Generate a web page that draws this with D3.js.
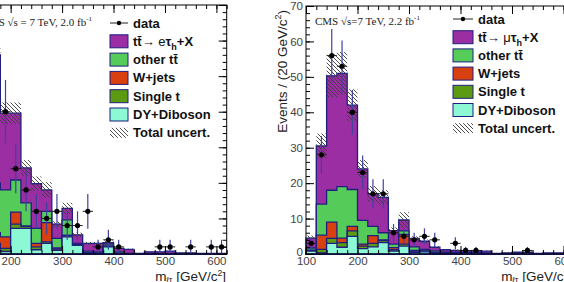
<!DOCTYPE html>
<html>
<head>
<meta charset="utf-8">
<script src="https://cdn.jsdelivr.net/npm/d3@7"></script>
<style>
  body { margin: 0; background: #fff; }
  svg { display: block; }
</style>
</head>
<body>
<div id="chart"></div>
<script>
// ---- data (20 GeV/c^2 bins, lower edges) ----
const BIN_W = 20;

// e-tau channel (left panel, only the part from 160 GeV on is in view)
const leftEdges = [160, 180, 200, 220, 240, 260, 280, 300, 320, 340, 360, 380, 400, 420, 440, 460, 480, 500, 520, 540, 560, 580, 600];
const leftDY    = [1.0, 0.35, 3.6, 3.6, 0.6, 1.5, 0.5, 2.4, 1.2, 0.15, 0.2, 1.0, 0.1, 0, 0, 0, 0, 0, 0, 0, 0, 0, 0];
const leftST    = [0.5, 0.45, 0.6, 0.3, 0.4, 0.2, 0.2, 0.2, 0.1, 0.05, 0, 0.1, 0, 0, 0, 0, 0, 0, 0, 0, 0, 0, 0];
const leftWJ    = [1.5, 1.6, 1.7, 0, 0.5, 2.7, 0.15, 0, 0, 0, 0, 0, 0, 0, 0, 0, 0, 0, 0, 0, 0, 0, 0];
const leftOTT   = [7.0, 6.6, 4.5, 3.3, 2.1, 1.6, 1.35, 2.2, 0.2, 0.2, 0.1, 0.3, 0.2, 0.1, 0, 0.05, 0.1, 0.1, 0, 0, 0, 0, 0];
const leftSIG   = [18.0, 10.8, 9.4, 4.9, 6.3, 3.0, 2.0, 1.6, 1.2, 1.1, 1.2, 0.2, 0.5, 0.55, 0.1, 0.25, 0.2, 0.3, 0.15, 0.15, 0.1, 0.1, 0.1];
const leftUnc   = [1.4, 1.5, 1.5, 1.1, 1.0, 1.1, 0.4, 0.8, 0.3, 0.2, 0.2, 0.3, 0.1, 0.1, 0.05, 0.05, 0.05, 0.05, 0.05, 0.05, 0.05, 0.05, 0.05];
const leftData  = [26, 20, 12, 9, 6, 5, 6, 4, 4, 6, 1, 2, 1, 0, 0, 0, 1, 1, 0, 1, 0, 1, 1];

// mu-tau channel (right panel)
const rightEdges = [100, 120, 140, 160, 180, 200, 220, 240, 260, 280, 300, 320, 340, 360, 380, 400, 420, 440, 460, 480, 500, 520, 540, 560, 580, 600];
const rightDY    = [0.8, 0.3, 3.0, 1.9, 5.0, 1.5, 2.0, 3.2, 0.8, 2.2, 0.5, 0.6, 0.3, 0.2, 0.2, 0.1, 0.1, 0.1, 0, 0, 0, 0, 0, 0, 0, 0];
const rightST    = [0.2, 1.0, 1.4, 1.3, 1.5, 0.7, 1.0, 0.6, 0.4, 0.6, 0.3, 0.2, 0.1, 0, 0, 0, 0, 0, 0, 0, 0, 0, 0, 0, 0, 0];
const rightWJ    = [0.1, 4.0, 4.6, 1.3, 1.3, 0.6, 2.2, 0.2, 0.6, 2.7, 0.2, 0.1, 0.1, 0.1, 0.1, 0.1, 0.1, 0, 0, 0, 0, 0, 0, 0, 0, 0];
const rightOTT   = [0.6, 8.8, 9.0, 14.5, 10.4, 6.7, 2.6, 2.0, 1.0, 1.0, 1.0, 0.4, 0.4, 0.2, 0.2, 0.2, 0.2, 0.2, 0.1, 0.1, 0.2, 0.2, 0.1, 0.1, 0.1, 0.1];
const rightSIG   = [2.8, 16.4, 32.3, 32.0, 23.8, 14.5, 9.2, 10.0, 3.8, 3.1, 2.4, 2.3, 1.0, 0.7, 0.5, 0.5, 0.5, 0.5, 0.1, 0.2, 0.3, 0.3, 0.1, 0.2, 0.2, 0.2];
const rightUnc   = [0.7, 3.5, 6.0, 6.0, 4.5, 2.5, 2.2, 2.0, 0.9, 2.2, 0.6, 0.5, 0.3, 0.2, 0.2, 0.15, 0.15, 0.15, 0.1, 0.1, 0.1, 0.1, 0.1, 0.1, 0.1, 0.1];
const rightData  = [3, 28, 56, 53, 40, 23, 17, 17, 6, 5, 4, 5, 4, 0, 3, 1, 1, 0, 0, 0, 0, 1, 0, 0, 0, 0];

const xTicks = [100, 200, 300, 400, 500, 600];
const yTicksLeft = [0, 5, 10, 15, 20, 25, 30, 35];
const yTicksRight = [0, 10, 20, 30, 40, 50, 60, 70];

const keys = ["dy", "st", "wj", "ott", "sig"];
const colors = { dy: "#8cf8d4", st: "#5c9a12", wj: "#d9400f", ott: "#55cc5a", sig: "#9a2ea2" };
const LINE = "#1f1f80";
const SANS = "Liberation Sans, Arial, sans-serif";

const W = 564, H = 282;
const svg = d3.select("#chart").append("svg").attr("width", W).attr("height", H);

const defs = svg.append("defs");
defs.append("pattern")
    .attr("id", "hatch")
    .attr("patternUnits", "userSpaceOnUse")
    .attr("width", 4).attr("height", 4)
    .append("path")
    .attr("d", "M-1,-1 L5,5 M-1,3 L1,5 M3,-1 L5,1")
    .attr("stroke", "#3a3a3a")
    .attr("stroke-width", 0.9);

function drawPanel(p) {
    const x = d3.scaleLinear().domain([100, 620]).range(p.xRange);
    const y = d3.scaleLinear().domain([0, p.yMax]).range([254, p.yTop]);
    const g = svg.append("g");

    // stack
    const rows = p.edges.map((e, i) => ({
        e: e, dy: p.dy[i], st: p.st[i], wj: p.wj[i], ott: p.ott[i], sig: p.sig[i]
    }));
    const series = d3.stack().keys(keys)(rows);

    const area = d3.area()
        .curve(d3.curveStepAfter)
        .x(d => x(d.e))
        .y0(y(0))
        .y1(d => y(d.v));

    // draw from the top of the stack down, each filled from zero (THStack style)
    series.slice().reverse().forEach(s => {
        const pts = s.map(d => ({ e: d.data.e, v: d[1] }));
        pts.push({ e: pts[pts.length - 1].e + BIN_W, v: pts[pts.length - 1].v });
        g.append("path")
            .attr("d", area(pts))
            .attr("fill", colors[s.key])
            .attr("stroke", LINE)
            .attr("stroke-width", 1.3)
            .attr("stroke-linejoin", "miter");
    });

    // total uncertainty band
    const tot = series[series.length - 1];
    g.append("g").selectAll("rect")
        .data(p.edges.map((e, i) => ({ e: e, t: tot[i][1], u: p.unc[i] })))
        .join("rect")
        .attr("x", d => x(d.e))
        .attr("width", d => x(d.e + BIN_W) - x(d.e))
        .attr("y", d => y(d.t + d.u))
        .attr("height", d => y(d.t - d.u) - y(d.t + d.u))
        .attr("fill", "url(#hatch)");

    // data points
    const pts = p.edges.map((e, i) => ({ c: e + BIN_W / 2, n: p.data[i] })).filter(d => d.n > 0);
    const dg = g.append("g");
    dg.selectAll("line.v").data(pts).join("line")
        .attr("class", "v")
        .attr("x1", d => x(d.c)).attr("x2", d => x(d.c))
        .attr("y1", d => y(d.n + Math.sqrt(d.n))).attr("y2", d => y(Math.max(0, d.n - Math.sqrt(d.n))))
        .attr("stroke", "#4141a0").attr("stroke-width", 1.2);
    dg.selectAll("line.h").data(pts).join("line")
        .attr("class", "h")
        .attr("x1", d => x(d.c - BIN_W / 2)).attr("x2", d => x(d.c + BIN_W / 2))
        .attr("y1", d => y(d.n)).attr("y2", d => y(d.n))
        .attr("stroke", "#222").attr("stroke-width", 1);
    dg.selectAll("circle").data(pts).join("circle")
        .attr("cx", d => x(d.c)).attr("cy", d => y(d.n)).attr("r", 2.6)
        .attr("fill", "#000");

    // axes, ticks inside on all four sides
    const x0 = x.range()[0], x1 = x.range()[1];
    const minorX = d3.range(100, 621, 20);
    const minorY = d3.range(0, p.yMax + 0.001, p.yMinor);

    const ax = (gen, tx, ty) => g.append("g").attr("transform", `translate(${tx},${ty})`).call(gen)
        .call(a => a.select(".domain").remove());

    ax(d3.axisBottom(x).tickValues(minorX).tickSize(-4).tickFormat(""), 0, 254);
    ax(d3.axisTop(x).tickValues(minorX).tickSize(-4).tickFormat(""), 0, p.yTop);
    ax(d3.axisTop(x).tickValues(xTicks).tickSize(-8).tickFormat(""), 0, p.yTop);
    // only the labels that fall inside the picture
    const xb = ax(d3.axisBottom(x).tickValues(xTicks.filter(v => x(v) > 0)).tickSize(-8).tickPadding(3), 0, 254);
    xb.selectAll("text").attr("font-size", 11.5).attr("fill", "#444").attr("font-family", SANS);

    ax(d3.axisLeft(y).tickValues(minorY).tickSize(-4).tickFormat(""), x0, 0);
    ax(d3.axisRight(y).tickValues(minorY).tickSize(-4).tickFormat(""), x1, 0);
    ax(d3.axisRight(y).tickValues(p.yTicks).tickSize(-8).tickFormat(""), x1, 0);
    if (x0 > 0) {
        const yl = ax(d3.axisLeft(y).tickValues(p.yTicks).tickSize(-8).tickPadding(3), x0, 0);
        yl.selectAll("text").attr("font-size", 11.5).attr("fill", "#444").attr("font-family", SANS)
            .attr("dy", d => d === 0 ? "0.1em" : "0.32em");
    } else {
        ax(d3.axisLeft(y).tickValues(p.yTicks).tickSize(-8).tickFormat(""), x0, 0);
    }
    g.selectAll(".tick line").attr("stroke", "#000");

    g.append("rect")
        .attr("x", x0).attr("y", p.yTop)
        .attr("width", x1 - x0).attr("height", 254 - p.yTop)
        .attr("fill", "none").attr("stroke", "#000").attr("stroke-width", 1);

    // x-axis title
    const xt = g.append("text")
        .attr("x", p.xTitleX).attr("y", 280.5)
        .attr("text-anchor", "end")
        .attr("font-family", SANS)
        .attr("font-size", 13.5).attr("fill", "#222");
    xt.append("tspan").text("m");
    xt.append("tspan").attr("font-size", 8.5).attr("dy", 2.5).text("ℓτ");
    xt.append("tspan").attr("dy", -2.5).text(" [GeV/c");
    xt.append("tspan").attr("font-size", 8.5).attr("dy", -5).text("2");
    xt.append("tspan").attr("dy", 5).text("]");

    // CMS label
    const cms = g.append("text")
        .attr("x", p.cmsX).attr("y", p.cmsY)
        .attr("text-anchor", p.cmsAnchor)
        .attr("font-family", "Liberation Serif, Times New Roman, serif")
        .attr("font-size", 11).attr("fill", "#222");
    cms.append("tspan").text(p.cmsText);
    cms.append("tspan").attr("font-size", 7).attr("dy", -5).text("-1");

    // legend
    const lg = g.append("g").attr("font-family", SANS)
        .attr("font-weight", "bold").attr("font-size", 13).attr("fill", "#111");
    const row = i => p.legY + i * p.legStep;
    const bx = p.legX, bw = p.legBoxW, bh = 13;

    lg.append("line").attr("x1", bx).attr("x2", bx + bw).attr("y1", row(0)).attr("y2", row(0))
        .attr("stroke", "#222").attr("stroke-width", 1);
    lg.append("circle").attr("cx", bx + bw / 2).attr("cy", row(0)).attr("r", 2.2).attr("fill", "#000");

    const boxes = [["sig", 1], ["ott", 2], ["wj", 3], ["st", 4], ["dy", 5]];
    boxes.forEach(([k, i]) => {
        lg.append("rect").attr("x", bx).attr("y", row(i) - bh / 2).attr("width", bw).attr("height", bh)
            .attr("fill", colors[k]).attr("stroke", LINE).attr("stroke-width", 1);
    });
    lg.append("rect").attr("x", bx).attr("y", row(6) - 5).attr("width", bw).attr("height", 10)
        .attr("fill", "url(#hatch)");

    const tx = bx + bw + 5;
    const label = (i) => lg.append("text").attr("x", tx).attr("y", row(i) + 4.5);
    label(0).text("data");
    const s1 = label(1);
    s1.append("tspan").text("tt\u0304");
    s1.append("tspan").attr("font-weight", "normal").text("\u2192 " + p.lep);
    s1.append("tspan").text("τ");
    s1.append("tspan").attr("font-size", 9).attr("dy", 4).text("h");
    s1.append("tspan").attr("dy", -4).text("+X");
    label(2).text("other tt\u0304");
    label(3).text("W+jets");
    label(4).text("Single t");
    label(5).text("DY+Diboson");
    label(6).text("Total uncert.");

    return { x, y };
}

// left panel: e-tau
drawPanel({
    edges: leftEdges, dy: leftDY, st: leftST, wj: leftWJ, ott: leftOTT, sig: leftSIG,
    unc: leftUnc, data: leftData,
    xRange: [-40.8, 226.7], yMax: 35, yTop: 5, yTicks: yTicksLeft, yMinor: 1,
    xTitleX: 226, cmsText: "CMS  \u221As = 7 TeV, 2.0 fb", cmsX: 92, cmsY: 26, cmsAnchor: "end",
    legX: 110, legY: 23, legStep: 18.3, legBoxW: 18, lep: "e"
});

// right panel: mu-tau
drawPanel({
    edges: rightEdges, dy: rightDY, st: rightST, wj: rightWJ, ott: rightOTT, sig: rightSIG,
    unc: rightUnc, data: rightData,
    xRange: [306, 573.8], yMax: 70, yTop: 6, yTicks: yTicksRight, yMinor: 2,
    xTitleX: 572, cmsText: "CMS \u221As=7 TeV, 2.2 fb", cmsX: 315, cmsY: 25, cmsAnchor: "start",
    legX: 453, legY: 19, legStep: 18.2, legBoxW: 20, lep: "μ"
});

// y-axis title of the right panel
const yt = svg.append("text")
    .attr("transform", "translate(287,10) rotate(-90)")
    .attr("text-anchor", "end")
    .attr("font-family", SANS)
    .attr("font-size", 13.5).attr("fill", "#222");
yt.append("tspan").text("Events / (20 GeV/c");
yt.append("tspan").attr("font-size", 9).attr("dy", -6).text("2");
yt.append("tspan").attr("dy", 6).text(")");
</script>
</body>
</html>
